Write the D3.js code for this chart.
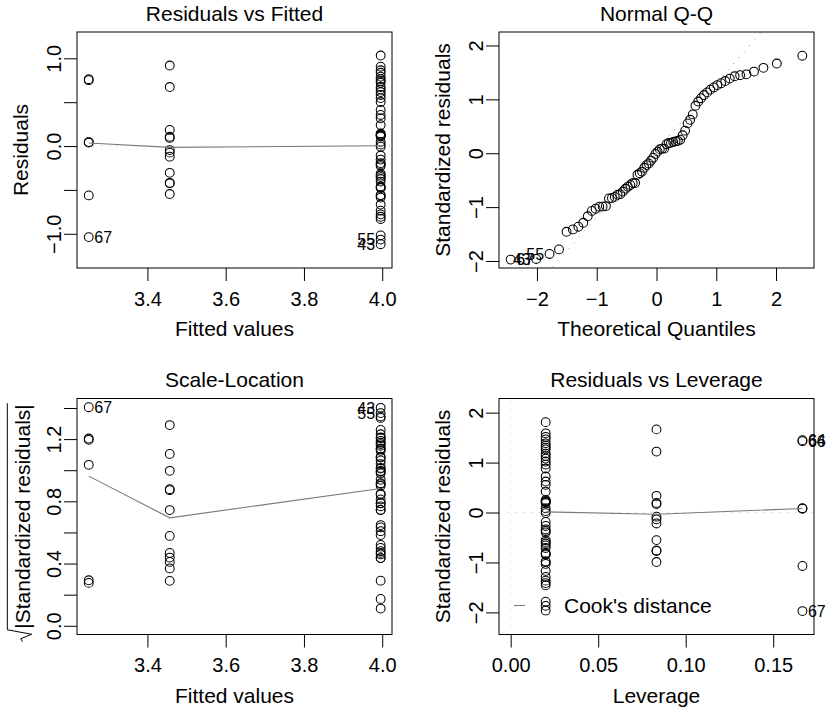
<!DOCTYPE html>
<html><head><meta charset="utf-8">
<script src="https://cdn.jsdelivr.net/npm/d3@7"></script>
<style>html,body{margin:0;padding:0;background:#fff;} svg{display:block;}</style>
</head><body>
<svg id="chart" width="832" height="717"></svg>
<script>
// ---------------- data ----------------
const groupFitted   = [3.250, 3.457, 3.996];
const groupLeverage = [0.1667, 0.0833, 0.0200];
const residualSigma = 0.576;
const modelRank = 3;

const residG1 = [0.762, 0.751, 0.045, 0.040, -0.563, -1.038];
const residG2 = [0.918, 0.673, 0.184, 0.106, 0.093, -0.046, -0.075, -0.121, -0.305, -0.419, -0.425, -0.547];
const residG3 = [-1.119, -1.066, -1.018, -0.831, -0.806, -0.778, -0.736, -0.667, -0.587, -0.565,
                 -0.559, -0.479, -0.473, -0.462, -0.405, -0.376, -0.354, -0.336, -0.316, -0.228,
                 -0.211, -0.194, -0.154, -0.108, -0.007, 0.017, 0.048, 0.108, 0.120, 0.125,
                 0.131, 0.143, 0.239, 0.316, 0.354, 0.411, 0.502, 0.547, 0.582, 0.616,
                 0.644, 0.673, 0.721, 0.741, 0.764, 0.790, 0.835, 0.864, 0.904, 1.032];
// [group, position in group array, observation number]
const obsLabels = [[0, 0, "64"], [0, 1, "66"], [0, 5, "67"], [2, 0, "43"], [2, 1, "55"]];

const smoothFitted   = [0.034, -0.015, 0.004];   // at groupFitted
const smoothSqrt     = [0.962, 0.694, 0.883];    // at groupFitted
const smoothLeverage = [0.080, -0.034, 0.012];   // at groupLeverage

const fittedTicks = [3.4, 3.6, 3.8, 4.0];
const fittedTickLabels = ["3.4", "3.6", "3.8", "4.0"];
const residTicks = [-1, -0.5, 0, 0.5, 1];
const residTickLabels = ["\u22121.0", "", "0.0", "", "1.0"];
const qqTicks = [-2, -1, 0, 1, 2];
const qqTickLabels = ["\u22122", "\u22121", "0", "1", "2"];
const sqrtTicks = [0, 0.2, 0.4, 0.6, 0.8, 1.0, 1.2, 1.4];
const sqrtTickLabels = ["0.0", "", "0.4", "", "0.8", "", "1.2", ""];
const levTicks = [0, 0.05, 0.10, 0.15];
const levTickLabels = ["0.00", "0.05", "0.10", "0.15"];
const stdTicks = [-2, -1, 0, 1, 2];
const stdTickLabels = ["\u22122", "\u22121", "0", "1", "2"];

const fittedDomain = [3.220, 4.025];
const residDomain  = [-1.39, 1.30];
const qqXDomain    = [-2.635, 2.635];
const qqYDomain    = [-2.13, 2.25];
const sqrtDomain   = [-0.056, 1.461];
const levDomain    = [-0.00667, 0.1733];
const stdDomain    = [-2.443, 2.283];

// ---------------- helpers ----------------
function qnorm(p) {
  const a=[-3.969683028665376e+01,2.209460984245205e+02,-2.759285104469687e+02,1.383577518672690e+02,-3.066479806614716e+01,2.506628277459239e+00];
  const b=[-5.447609879822406e+01,1.615858368580409e+02,-1.556989798598866e+02,6.680131188771972e+01,-1.328068155288572e+01];
  const c=[-7.784894002430293e-03,-3.223964580411365e-01,-2.400758277161838e+00,-2.549732539343734e+00,4.374664141464968e+00,2.938163982698783e+00];
  const d=[7.784695709041462e-03,3.224671290700398e-01,2.445134137142996e+00,3.754408661907416e+00];
  const pl=0.02425, ph=1-pl;
  if (p < pl) { const q=Math.sqrt(-2*Math.log(p)); return (((((c[0]*q+c[1])*q+c[2])*q+c[3])*q+c[4])*q+c[5])/((((d[0]*q+d[1])*q+d[2])*q+d[3])*q+1); }
  if (p <= ph) { const q=p-0.5, r=q*q; return (((((a[0]*r+a[1])*r+a[2])*r+a[3])*r+a[4])*r+a[5])*q/(((((b[0]*r+b[1])*r+b[2])*r+b[3])*r+b[4])*r+1); }
  const q=Math.sqrt(-2*Math.log(1-p)); return -(((((c[0]*q+c[1])*q+c[2])*q+c[3])*q+c[4])*q+c[5])/((((d[0]*q+d[1])*q+d[2])*q+d[3])*q+1);
}

const obs = [];
[residG1, residG2, residG3].forEach((arr, g) => arr.forEach((r, k) => {
  const h = groupLeverage[g];
  const std = r / (residualSigma * Math.sqrt(1 - h));
  const lab = obsLabels.find(l => l[0] === g && l[1] === k);
  obs.push({ g, k, fitted: groupFitted[g], lev: h, resid: r, std,
             sqrtAbs: Math.sqrt(Math.abs(std)),
             cook: std * std * h / (modelRank * (1 - h)),
             id: lab ? lab[2] : "" });
}));
const n = obs.length;
d3.sort(obs, d => d.std).forEach((d, i) => { d.qz = qnorm((i + 1 - 0.5) / n); });

// ---------------- drawing ----------------
const FONT = "'Liberation Sans', Arial, Helvetica, sans-serif";
const F_TEXT = 21, F_TICK = 20, F_ID = 16;
const R_PT = 4.4;
const svg = d3.select("#chart");
const defs = svg.append("defs");
const COLS = [[77, 392], [499, 814]];
const ROWS = [[32, 268], [398.5, 634.5]];
let clipN = 0;

function panel(col, row, xDomain, yDomain) {
  const xr = COLS[col], yr = ROWS[row];
  const p = { x: d3.scaleLinear().domain(xDomain).range(xr),
              y: d3.scaleLinear().domain(yDomain).range([yr[1], yr[0]]),
              left: xr[0], right: xr[1], top: yr[0], bottom: yr[1] };
  const id = "clip" + (clipN++);
  defs.append("clipPath").attr("id", id).append("rect")
    .attr("x", p.left).attr("y", p.top).attr("width", p.right - p.left).attr("height", p.bottom - p.top);
  p.g = svg.append("g");
  p.clip = p.g.append("g").attr("clip-path", `url(#${id})`);
  return p;
}

function frameAxes(p, xt, xl, yt, yl, title, xTitle, yTitle) {
  const g = p.g;
  const ax = g.append("g").attr("transform", `translate(0,${p.bottom})`)
    .call(d3.axisBottom(p.x).tickValues(xt).tickFormat((d, i) => xl[i]).tickSize(13).tickSizeOuter(0));
  ax.select(".domain").remove();
  ax.attr("font-size", F_TICK).attr("font-family", FONT);
  ax.selectAll("text").attr("y", 37.7).attr("dy", null).attr("fill", "#000");
  ax.selectAll("line").attr("stroke", "#000");

  const ay = g.append("g").attr("transform", `translate(${p.left},0)`)
    .call(d3.axisLeft(p.y).tickValues(yt).tickFormat((d, i) => yl[i]).tickSize(13).tickSizeOuter(0));
  ay.select(".domain").remove();
  ay.attr("font-size", F_TICK).attr("font-family", FONT);
  ay.selectAll("text").attr("x", null).attr("dy", null).attr("fill", "#000")
    .attr("text-anchor", "middle").attr("transform", "translate(-16.5,0) rotate(-90)");
  ay.selectAll("line").attr("stroke", "#000");

  g.append("rect").attr("x", p.left).attr("y", p.top)
    .attr("width", p.right - p.left).attr("height", p.bottom - p.top)
    .attr("fill", "none").attr("stroke", "#000").attr("stroke-width", 1);

  g.append("text").attr("x", (p.left + p.right) / 2).attr("y", p.top - 11.5)
    .attr("text-anchor", "middle").attr("font-size", F_TEXT).attr("font-family", FONT).text(title);
  g.append("text").attr("x", (p.left + p.right) / 2).attr("y", p.bottom + 68)
    .attr("text-anchor", "middle").attr("font-size", F_TEXT).attr("font-family", FONT).text(xTitle);
  if (yTitle !== null) {
    g.append("text").attr("transform", `translate(${p.left - 49},${(p.top + p.bottom) / 2}) rotate(-90)`)
      .attr("text-anchor", "middle").attr("font-size", F_TEXT).attr("font-family", FONT).text(yTitle);
  }
}

function points(p, xa, ya) {
  p.clip.append("g").selectAll("circle").data(obs).join("circle")
    .attr("cx", d => p.x(xa(d))).attr("cy", d => p.y(ya(d))).attr("r", R_PT)
    .attr("fill", "none").attr("stroke", "#000").attr("stroke-width", 1.05);
}

function smoother(p, xs, ys) {
  const pts = d3.sort(xs.map((x, i) => [x, ys[i]]), d => d[0]);
  p.clip.append("path").attr("d", d3.line().x(d => p.x(d[0])).y(d => p.y(d[1]))(pts))
    .attr("fill", "none").attr("stroke", "#7a7a7a").attr("stroke-width", 1.1);
}

function refLine(p, x1, y1, x2, y2, color) {
  p.clip.append("line").attr("x1", p.x(x1)).attr("y1", p.y(y1)).attr("x2", p.x(x2)).attr("y2", p.y(y2))
    .attr("stroke", color).attr("stroke-width", 1).attr("stroke-dasharray", "1,7");
}

function idLabels(p, sel, xa, ya) {
  const xs = sel.map(xa);
  const mid = (d3.min(xs) + d3.max(xs)) / 2;
  p.g.append("g").selectAll("text").data(sel).join("text")
    .attr("x", d => p.x(xa(d)) + (xa(d) > mid ? -5.5 : 5.5))
    .attr("y", d => p.y(ya(d))).attr("dy", "0.36em")
    .attr("text-anchor", d => xa(d) > mid ? "end" : "start")
    .attr("font-size", F_ID).attr("font-family", FONT).text(d => d.id);
}
const top3 = f => d3.sort(obs, (a, b) => f(b) - f(a)).slice(0, 3);

// Panel 1: Residuals vs Fitted
{
  const p = panel(0, 0, fittedDomain, residDomain);
  refLine(p, fittedDomain[0], 0, fittedDomain[1], 0, "#bebebe");
  points(p, d => d.fitted, d => d.resid);
  smoother(p, groupFitted, smoothFitted);
  idLabels(p, top3(d => Math.abs(d.resid)), d => d.fitted, d => d.resid);
  frameAxes(p, fittedTicks, fittedTickLabels, residTicks, residTickLabels, "Residuals vs Fitted", "Fitted values", "Residuals");
}
// Panel 2: Normal Q-Q
{
  const p = panel(1, 0, qqXDomain, qqYDomain);
  const ys = d3.sort(obs.map(d => d.std));
  const yq = [d3.quantileSorted(ys, 0.25), d3.quantileSorted(ys, 0.75)];
  const xq = [qnorm(0.25), qnorm(0.75)];
  const slope = (yq[1] - yq[0]) / (xq[1] - xq[0]);
  const icpt = yq[0] - slope * xq[0];
  refLine(p, qqXDomain[0], icpt + slope * qqXDomain[0], qqXDomain[1], icpt + slope * qqXDomain[1], "#8c8c8c");
  points(p, d => d.qz, d => d.std);
  idLabels(p, top3(d => Math.abs(d.std)), d => d.qz, d => d.std);
  frameAxes(p, qqTicks, qqTickLabels, qqTicks, qqTickLabels, "Normal Q-Q", "Theoretical Quantiles", "Standardized residuals");
}
// Panel 3: Scale-Location
{
  const p = panel(0, 1, fittedDomain, sqrtDomain);
  points(p, d => d.fitted, d => d.sqrtAbs);
  smoother(p, groupFitted, smoothSqrt);
  idLabels(p, top3(d => d.sqrtAbs), d => d.fitted, d => d.sqrtAbs);
  frameAxes(p, fittedTicks, fittedTickLabels, sqrtTicks, sqrtTickLabels, "Scale-Location", "Fitted values", null);
  const yl = p.g.append("g").attr("transform", `translate(${p.left - 47},${(p.top + p.bottom) / 2}) rotate(-90)`);
  const t = yl.append("text").attr("text-anchor", "middle").attr("font-size", F_TEXT)
    .attr("font-family", FONT).text("|Standardized residuals|");
  const L = t.node().getComputedTextLength();
  const x0 = -L / 2, x1 = L / 2, F = F_TEXT;
  yl.append("path")
    .attr("d", `M${x0 - 13},${-0.36 * F} L${x0 - 10},${-0.44 * F} L${x0 - 5.5},${0.08 * F} L${x0 - 1},${-1.08 * F} L${x1 + 1},${-1.08 * F}`)
    .attr("fill", "none").attr("stroke", "#000").attr("stroke-width", 1);
}
// Panel 4: Residuals vs Leverage
{
  const p = panel(1, 1, levDomain, stdDomain);
  refLine(p, levDomain[0], 0, levDomain[1], 0, "#c8c8c8");
  refLine(p, 0, stdDomain[0], 0, stdDomain[1], "#c8c8c8");
  points(p, d => d.lev, d => d.std);
  smoother(p, groupLeverage, smoothLeverage);
  idLabels(p, top3(d => d.cook), d => d.lev, d => d.std);
  frameAxes(p, levTicks, levTickLabels, stdTicks, stdTickLabels, "Residuals vs Leverage", "Leverage", "Standardized residuals");
  const lg = p.g.append("g");
  lg.append("line").attr("x1", p.left + 15).attr("x2", p.left + 26)
    .attr("y1", p.bottom - 29).attr("y2", p.bottom - 29)
    .attr("stroke", "#808080").attr("stroke-width", 1.1);
  lg.append("text").attr("x", p.left + 65).attr("y", p.bottom - 21.2)
    .attr("font-size", F_TEXT).attr("font-family", FONT).text("Cook's distance");
}
</script>
</body></html>
